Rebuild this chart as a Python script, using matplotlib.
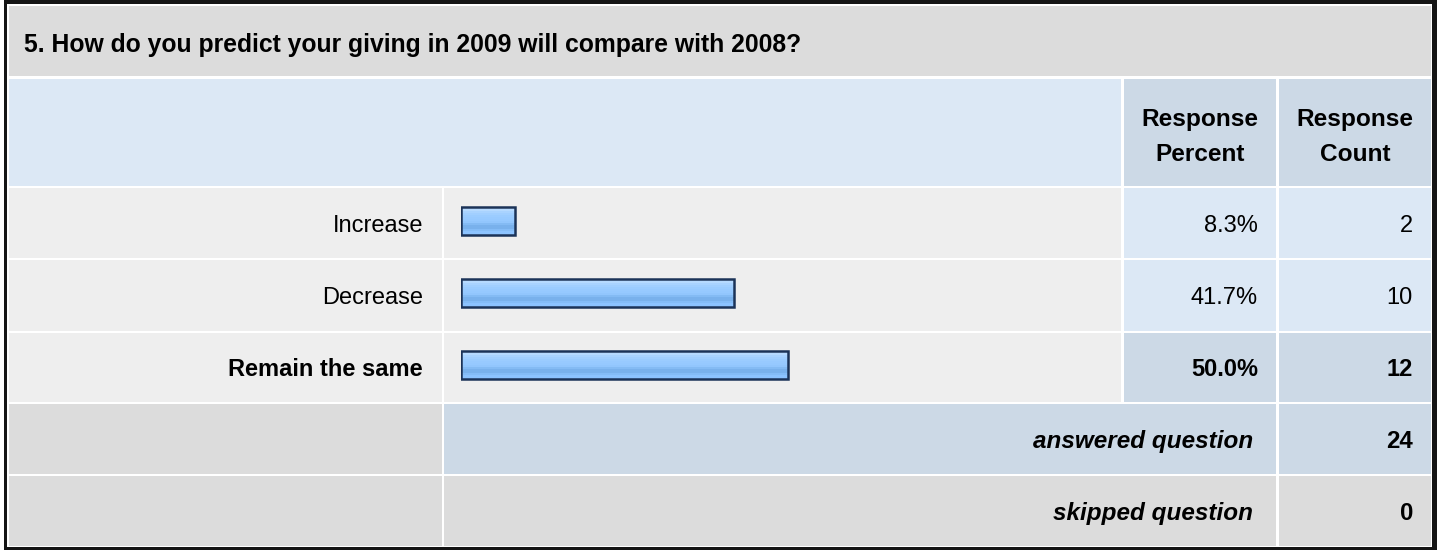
import matplotlib.pyplot as plt
import numpy as np
from matplotlib.colors import to_rgb
from matplotlib.patches import Rectangle

plt.rcParams['font.family'] = ['Liberation Sans', 'DejaVu Sans']

# Survey data
question = "5. How do you predict your giving in 2009 will compare with 2008?"
choices = ["Increase", "Decrease", "Remain the same"]
percents = [8.3, 41.7, 50.0]
counts = [2, 10, 12]
answered = 24
skipped = 0

W, H = 1437, 550
GREY = '#dcdcdc'
LIGHT = '#eeeeee'
BLUE = '#dce8f5'
BLUE2 = '#ccd9e6'
EDGE = '#1b3358'
STRIPES = ['#c6e2ff', '#b6daff', '#a9d3ff', '#a1cfff', '#9bccff', '#98caff', '#96c9ff',
           '#92c6fd', '#84bbf4', '#79b1ec', '#79b1ec', '#84bcf7', '#8cc3ff', '#8cc3ff']

fig = plt.figure(figsize=(W / 100, H / 100), dpi=100)
ax = fig.add_axes([0, 0, 1, 1])
ax.set_xlim(0, W)
ax.set_ylim(H, 0)
ax.axis('off')


def cell(x0, x1, y0, y1, color):
    ax.add_patch(Rectangle((x0, y0), x1 - x0, y1 - y0, facecolor=color, edgecolor='none'))


# outer frame
cell(4, W, 0, H, '#151515')
cell(7, 1432, 4, 547, 'white')

# title band
cell(9, 1431, 6, 76, GREY)
ax.text(24, 52, question, fontsize=17.8, fontweight='bold', ha='left', va='baseline')

# header row
cell(9, 1121, 79, 186, BLUE)
cell(1124, 1276, 79, 186, BLUE2)
cell(1279, 1431, 79, 186, BLUE2)
for cx in (1200, 1355):
    ax.text(cx, 126, "Response", fontsize=17.6, fontweight='bold', ha='center', va='baseline')
ax.text(1200, 161, "Percent", fontsize=17.6, fontweight='bold', ha='center', va='baseline')
ax.text(1355, 161, "Count", fontsize=17.6, fontweight='bold', ha='center', va='baseline')

# choice rows
row_tops = [188, 260, 333]
row_bots = [258, 331, 402]
top = int(np.argmax(percents))
for i, name in enumerate(choices):
    y0, y1 = row_tops[i], row_bots[i]
    yb = (y0 + y1) / 2 + 9
    hi = i == top
    cell(9, 442, y0, y1, LIGHT)
    cell(444, 1121, y0, y1, LIGHT)
    cell(1124, 1276, y0, y1, BLUE2 if hi else BLUE)
    cell(1279, 1431, y0, y1, BLUE2 if hi else BLUE)
    w = 'bold' if hi else 'normal'
    ax.text(423, yb, name, fontsize=17, fontweight=w, ha='right', va='baseline')
    ax.text(1258, yb, f"{percents[i]:.1f}%", fontsize=17, fontweight=w, ha='right', va='baseline')
    ax.text(1413, yb, str(counts[i]), fontsize=17, fontweight=w, ha='right', va='baseline')

# summary rows
cell(9, 442, 404, 474, GREY)
cell(444, 1276, 404, 474, BLUE2)
cell(1279, 1431, 404, 474, BLUE2)
cell(9, 442, 476, 546, GREY)
cell(444, 1276, 476, 546, GREY)
cell(1279, 1431, 476, 546, GREY)
ax.text(1253, 448, "answered question", fontsize=17.5, fontweight='bold', style='italic',
        ha='right', va='baseline')
ax.text(1413, 448, str(answered), fontsize=17.3, fontweight='bold', ha='right', va='baseline')
ax.text(1253, 520, "skipped question", fontsize=17.5, fontweight='bold', style='italic',
        ha='right', va='baseline')
ax.text(1413, 520, str(skipped), fontsize=17.3, fontweight='bold', ha='right', va='baseline')

# bars on their own percent axis
bx0, bx1 = 461, 1115
by0, by1 = 185, 401
bax = fig.add_axes([bx0 / W, 1 - by1 / H, (bx1 - bx0) / W, (by1 - by0) / H])
bax.set_xlim(0, 100)
bax.set_ylim(len(choices) - 0.5, -0.5)
bax.axis('off')
bh = 28 / 72
grad = np.array([to_rgb(c) for c in STRIPES])[:, None, :]
ypos = np.arange(len(choices))
for i, p in enumerate(percents):
    bax.imshow(grad, extent=(0, p, i + bh / 2, i - bh / 2), aspect='auto',
               interpolation='nearest', zorder=2)
bax.barh(ypos, percents, height=bh, color='none', edgecolor=EDGE, linewidth=1.8, zorder=3)
bax.set_xlim(0, 100)
bax.set_ylim(len(choices) - 0.5, -0.5)

fig.savefig('out.png', dpi=100)
